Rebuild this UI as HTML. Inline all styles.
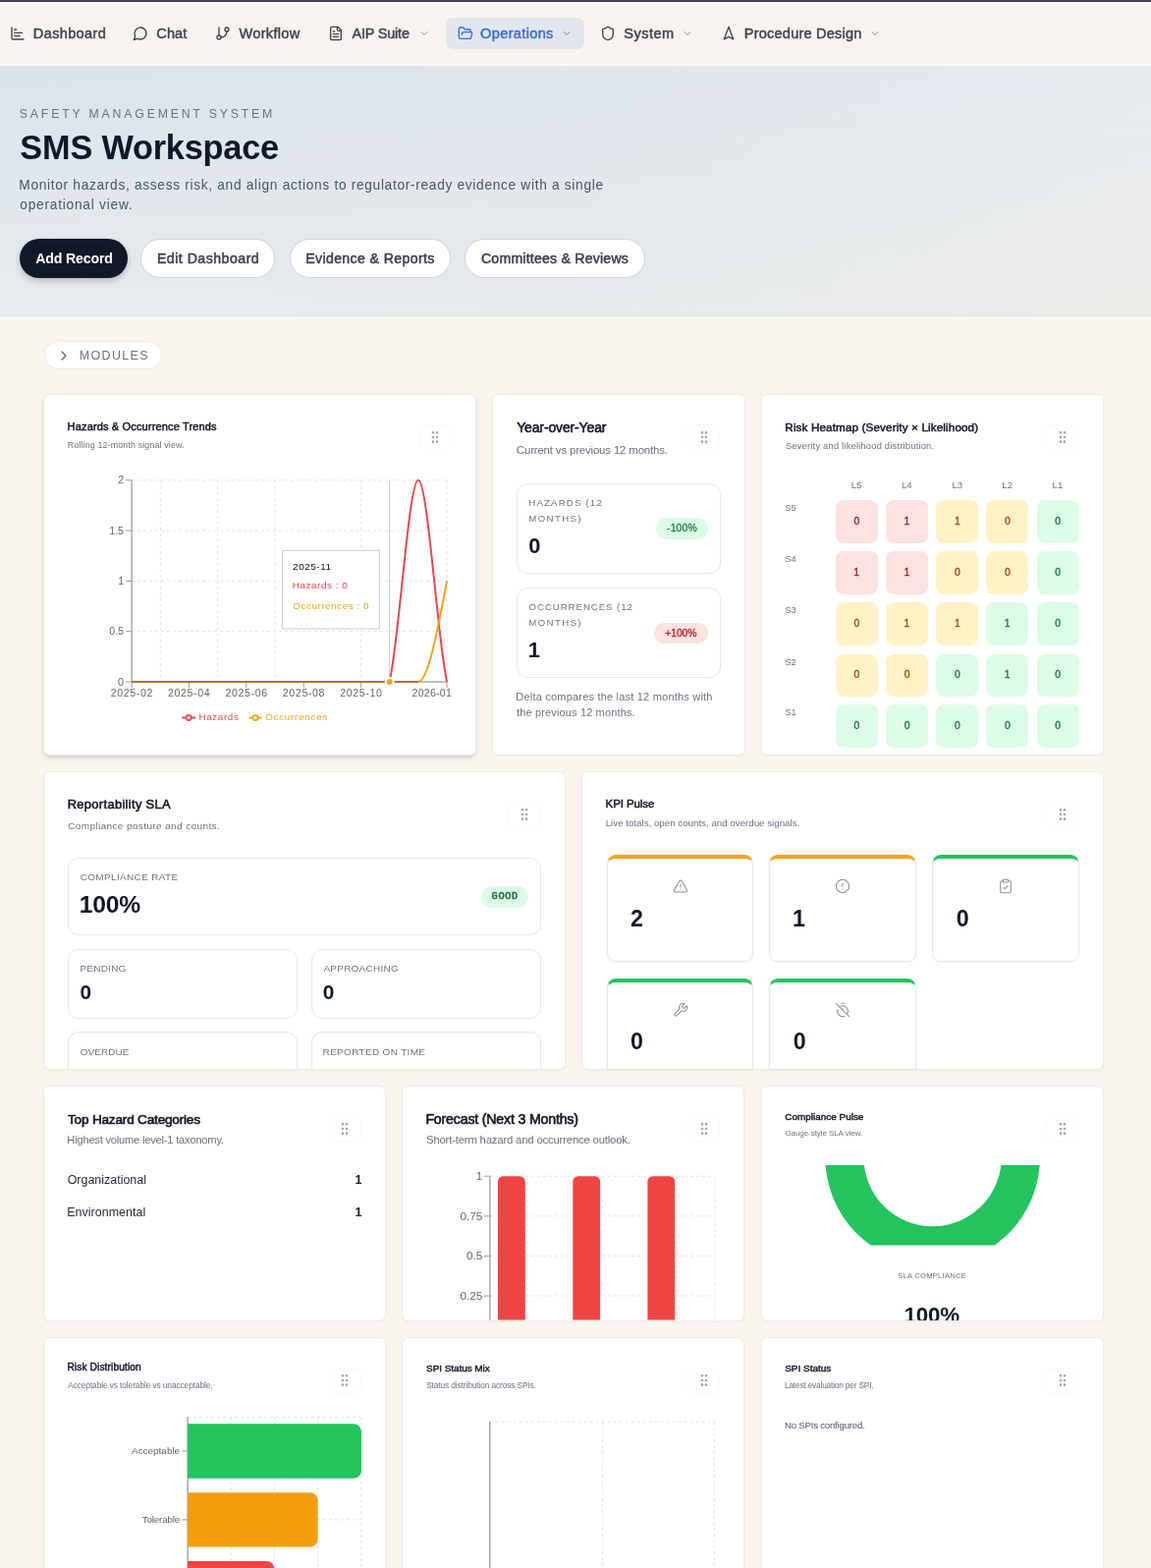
<!DOCTYPE html>
<html><head><meta charset="utf-8"><title>SMS Workspace</title>
<style>
*{box-sizing:border-box;margin:0;padding:0}
html,body{width:1172px;height:1596px;overflow:hidden}
body{background:#f8f5ee;font-family:"Liberation Sans",Arial,sans-serif;position:relative}
.t{position:absolute;white-space:nowrap}
svg{display:block}
</style></head><body>
<div style="position:absolute;left:0px;top:0px;width:1172px;height:1px;background:#4b4554"></div>
<div style="position:absolute;left:0px;top:1px;width:1172px;height:1px;background:#3b3541"></div>
<div style="position:absolute;left:0px;top:2px;width:1172px;height:1px;background:#fdfcfa"></div>
<div style="position:absolute;left:0px;top:3px;width:1172px;height:63px;background:#f7f4ef"></div>
<div style="position:absolute;left:0px;top:65px;width:1172px;height:1.5px;background:#fbfaf8"></div>
<div style="position:absolute;left:0px;top:66.5px;width:1172px;height:255.5px;background:linear-gradient(90deg,#dbe3ec 0%,#dfe6ee 50%,#e6eaf0 100%)"></div>
<div style="position:absolute;left:0px;top:66.5px;width:1172px;height:255.5px;background:linear-gradient(90deg,#e6ecee 0%,#e6eaeb 50%,#ebebe7 100%);-webkit-mask-image:linear-gradient(180deg,transparent 0%,#000 100%);mask-image:linear-gradient(180deg,transparent 0%,#000 100%)"></div>
<div style="position:absolute;left:0px;top:321px;width:1172px;height:1px;background:#e4e5e3"></div>
<div style="position:absolute;left:454px;top:18px;width:141px;height:32px;background:#e2e6ef;border-radius:7px"></div>
<svg style="position:absolute;left:10px;top:26px;" width="16" height="16" viewBox="0 0 24 24" fill="none" stroke="#3f4150" stroke-width="2" stroke-linecap="round" stroke-linejoin="round"><path d="M3 3v16a2 2 0 0 0 2 2h16"/><path d="M7 16h8"/><path d="M7 11h12"/><path d="M7 6h3"/></svg>
<svg style="position:absolute;left:135px;top:26px;" width="16" height="16" viewBox="0 0 24 24" fill="none" stroke="#3f4150" stroke-width="2" stroke-linecap="round" stroke-linejoin="round"><path d="M7.9 20A9 9 0 1 0 4 16.1L2 22Z"/></svg>
<svg style="position:absolute;left:219px;top:26px;" width="16" height="16" viewBox="0 0 24 24" fill="none" stroke="#3f4150" stroke-width="2" stroke-linecap="round" stroke-linejoin="round"><line x1="6" x2="6" y1="3" y2="15"/><circle cx="18" cy="6" r="3"/><circle cx="6" cy="18" r="3"/><path d="M18 9a9 9 0 0 1-9 9"/></svg>
<svg style="position:absolute;left:334px;top:26px;" width="16" height="16" viewBox="0 0 24 24" fill="none" stroke="#3f4150" stroke-width="2" stroke-linecap="round" stroke-linejoin="round"><path d="M15 2H6a2 2 0 0 0-2 2v16a2 2 0 0 0 2 2h12a2 2 0 0 0 2-2V7Z"/><path d="M14 2v4a2 2 0 0 0 2 2h4"/><path d="M10 9H8"/><path d="M16 13H8"/><path d="M16 17H8"/></svg>
<svg style="position:absolute;left:426.4px;top:27.9px;" width="12" height="12" viewBox="0 0 24 24" fill="none" stroke="#80848f" stroke-width="2" stroke-linecap="round" stroke-linejoin="round"><path d="m6 9 6 6 6-6"/></svg>
<svg style="position:absolute;left:466px;top:26px;" width="16" height="16" viewBox="0 0 24 24" fill="none" stroke="#3a6bd1" stroke-width="2" stroke-linecap="round" stroke-linejoin="round"><path d="m6 14 1.5-2.9A2 2 0 0 1 9.24 10H20a2 2 0 0 1 1.94 2.5l-1.54 6a2 2 0 0 1-1.95 1.5H4a2 2 0 0 1-2-2V5a2 2 0 0 1 2-2h3.9a2 2 0 0 1 1.69.9l.81 1.2a2 2 0 0 0 1.67.9H18a2 2 0 0 1 2 2v2"/></svg>
<svg style="position:absolute;left:571px;top:27.9px;" width="12" height="12" viewBox="0 0 24 24" fill="none" stroke="#6f86bd" stroke-width="2" stroke-linecap="round" stroke-linejoin="round"><path d="m6 9 6 6 6-6"/></svg>
<svg style="position:absolute;left:611px;top:26px;" width="16" height="16" viewBox="0 0 24 24" fill="none" stroke="#3f4150" stroke-width="2" stroke-linecap="round" stroke-linejoin="round"><path d="M20 13c0 5-3.5 7.5-7.66 8.95a1 1 0 0 1-.67-.01C7.5 20.5 4 18 4 13V6a1 1 0 0 1 1-1c2 0 4.5-1.2 6.24-2.72a1.17 1.17 0 0 1 1.52 0C14.51 3.81 17 5 19 5a1 1 0 0 1 1 1z"/></svg>
<svg style="position:absolute;left:693.7px;top:27.9px;" width="12" height="12" viewBox="0 0 24 24" fill="none" stroke="#80848f" stroke-width="2" stroke-linecap="round" stroke-linejoin="round"><path d="m6 9 6 6 6-6"/></svg>
<svg style="position:absolute;left:734px;top:26px;" width="16" height="16" viewBox="0 0 24 24" fill="none" stroke="#3f4150" stroke-width="2" stroke-linecap="round" stroke-linejoin="round"><polygon points="12 2 19 21 12 17 5 21 12 2"/></svg>
<svg style="position:absolute;left:885.1px;top:27.9px;" width="12" height="12" viewBox="0 0 24 24" fill="none" stroke="#80848f" stroke-width="2" stroke-linecap="round" stroke-linejoin="round"><path d="m6 9 6 6 6-6"/></svg>
<div style="position:absolute;left:20px;top:243px;width:110px;height:40px;background:#111827;border-radius:20px;box-shadow:0 3px 6px rgba(17,24,39,.22)"></div>
<div style="position:absolute;left:143px;top:243px;width:137px;height:40px;background:#fff;border:1px solid #cdd4de;border-radius:20px"></div>
<div style="position:absolute;left:294.6px;top:243px;width:164px;height:40px;background:#fff;border:1px solid #cdd4de;border-radius:20px"></div>
<div style="position:absolute;left:473px;top:243px;width:184px;height:40px;background:#fff;border:1px solid #cdd4de;border-radius:20px"></div>
<div style="position:absolute;left:44.6px;top:347.4px;width:120.4px;height:29px;background:#fff;border:1px solid #ebe9e4;border-radius:15px"></div>
<svg style="position:absolute;left:57.1px;top:353.75px;" width="16" height="16" viewBox="0 0 24 24" fill="none" stroke="#596070" stroke-width="2" stroke-linecap="round" stroke-linejoin="round"><path d="m9 18 6-6-6-6"/></svg>
<div style="position:absolute;left:44px;top:401px;width:441px;height:368px;background:#fff;border:1px solid #ebeae7;border-radius:6.5px;box-shadow:0 3px 5px rgba(0,0,0,.10),0 1px 2px rgba(0,0,0,.05)"></div>
<div style="position:absolute;left:426.6px;top:432.4px;width:33px;height:25px;border:1px solid #fafafa;border-radius:5px"></div>
<svg style="position:absolute;left:435.1px;top:436.9px;" width="16" height="16" viewBox="0 0 24 24" fill="none" stroke="#a5a6aa" stroke-width="2" stroke-linecap="round" stroke-linejoin="round"><circle cx="9" cy="12" r="1"/><circle cx="9" cy="5" r="1"/><circle cx="9" cy="19" r="1"/><circle cx="15" cy="12" r="1"/><circle cx="15" cy="5" r="1"/><circle cx="15" cy="19" r="1"/></svg>
<div style="position:absolute;left:501px;top:401px;width:258px;height:368px;background:#fff;border:1px solid #ebeae7;border-radius:6.5px;box-shadow:0 1px 2px rgba(0,0,0,.035)"></div>
<div style="position:absolute;left:700.2px;top:432.4px;width:33px;height:25px;border:1px solid #fafafa;border-radius:5px"></div>
<svg style="position:absolute;left:708.7px;top:436.9px;" width="16" height="16" viewBox="0 0 24 24" fill="none" stroke="#a5a6aa" stroke-width="2" stroke-linecap="round" stroke-linejoin="round"><circle cx="9" cy="12" r="1"/><circle cx="9" cy="5" r="1"/><circle cx="9" cy="19" r="1"/><circle cx="15" cy="12" r="1"/><circle cx="15" cy="5" r="1"/><circle cx="15" cy="19" r="1"/></svg>
<div style="position:absolute;left:775px;top:401px;width:349px;height:368px;background:#fff;border:1px solid #ebeae7;border-radius:6.5px;box-shadow:0 1px 2px rgba(0,0,0,.035)"></div>
<div style="position:absolute;left:1065.3999999999999px;top:432.4px;width:33px;height:25px;border:1px solid #fafafa;border-radius:5px"></div>
<svg style="position:absolute;left:1073.8999999999999px;top:436.9px;" width="16" height="16" viewBox="0 0 24 24" fill="none" stroke="#a5a6aa" stroke-width="2" stroke-linecap="round" stroke-linejoin="round"><circle cx="9" cy="12" r="1"/><circle cx="9" cy="5" r="1"/><circle cx="9" cy="19" r="1"/><circle cx="15" cy="12" r="1"/><circle cx="15" cy="5" r="1"/><circle cx="15" cy="19" r="1"/></svg>
<div style="position:absolute;left:44px;top:785px;width:532px;height:304px;background:#fff;border:1px solid #ebeae7;border-radius:6.5px;box-shadow:0 1px 2px rgba(0,0,0,.035)"></div>
<div style="position:absolute;left:517.0000000000001px;top:816.5px;width:33px;height:25px;border:1px solid #fafafa;border-radius:5px"></div>
<svg style="position:absolute;left:525.5000000000001px;top:821.0px;" width="16" height="16" viewBox="0 0 24 24" fill="none" stroke="#a5a6aa" stroke-width="2" stroke-linecap="round" stroke-linejoin="round"><circle cx="9" cy="12" r="1"/><circle cx="9" cy="5" r="1"/><circle cx="9" cy="19" r="1"/><circle cx="15" cy="12" r="1"/><circle cx="15" cy="5" r="1"/><circle cx="15" cy="19" r="1"/></svg>
<div style="position:absolute;left:592px;top:785px;width:532px;height:304px;background:#fff;border:1px solid #ebeae7;border-radius:6.5px;box-shadow:0 1px 2px rgba(0,0,0,.035)"></div>
<div style="position:absolute;left:1065.4px;top:816.5px;width:33px;height:25px;border:1px solid #fafafa;border-radius:5px"></div>
<svg style="position:absolute;left:1073.9px;top:821.0px;" width="16" height="16" viewBox="0 0 24 24" fill="none" stroke="#a5a6aa" stroke-width="2" stroke-linecap="round" stroke-linejoin="round"><circle cx="9" cy="12" r="1"/><circle cx="9" cy="5" r="1"/><circle cx="9" cy="19" r="1"/><circle cx="15" cy="12" r="1"/><circle cx="15" cy="5" r="1"/><circle cx="15" cy="19" r="1"/></svg>
<div style="position:absolute;left:44px;top:1105px;width:349px;height:240px;background:#fff;border:1px solid #ebeae7;border-radius:6.5px;box-shadow:0 1px 2px rgba(0,0,0,.035)"></div>
<div style="position:absolute;left:334.5px;top:1136.7px;width:33px;height:25px;border:1px solid #fafafa;border-radius:5px"></div>
<svg style="position:absolute;left:343.0px;top:1141.2px;" width="16" height="16" viewBox="0 0 24 24" fill="none" stroke="#a5a6aa" stroke-width="2" stroke-linecap="round" stroke-linejoin="round"><circle cx="9" cy="12" r="1"/><circle cx="9" cy="5" r="1"/><circle cx="9" cy="19" r="1"/><circle cx="15" cy="12" r="1"/><circle cx="15" cy="5" r="1"/><circle cx="15" cy="19" r="1"/></svg>
<div style="position:absolute;left:409px;top:1105px;width:349px;height:240px;background:#fff;border:1px solid #ebeae7;border-radius:6.5px;box-shadow:0 1px 2px rgba(0,0,0,.035)"></div>
<div style="position:absolute;left:700.4000000000001px;top:1136.7px;width:33px;height:25px;border:1px solid #fafafa;border-radius:5px"></div>
<svg style="position:absolute;left:708.9000000000001px;top:1141.2px;" width="16" height="16" viewBox="0 0 24 24" fill="none" stroke="#a5a6aa" stroke-width="2" stroke-linecap="round" stroke-linejoin="round"><circle cx="9" cy="12" r="1"/><circle cx="9" cy="5" r="1"/><circle cx="9" cy="19" r="1"/><circle cx="15" cy="12" r="1"/><circle cx="15" cy="5" r="1"/><circle cx="15" cy="19" r="1"/></svg>
<div style="position:absolute;left:775px;top:1105px;width:349px;height:240px;background:#fff;border:1px solid #ebeae7;border-radius:6.5px;box-shadow:0 1px 2px rgba(0,0,0,.035)"></div>
<div style="position:absolute;left:1065.3999999999999px;top:1136.7px;width:33px;height:25px;border:1px solid #fafafa;border-radius:5px"></div>
<svg style="position:absolute;left:1073.8999999999999px;top:1141.2px;" width="16" height="16" viewBox="0 0 24 24" fill="none" stroke="#a5a6aa" stroke-width="2" stroke-linecap="round" stroke-linejoin="round"><circle cx="9" cy="12" r="1"/><circle cx="9" cy="5" r="1"/><circle cx="9" cy="19" r="1"/><circle cx="15" cy="12" r="1"/><circle cx="15" cy="5" r="1"/><circle cx="15" cy="19" r="1"/></svg>
<div style="position:absolute;left:44px;top:1361px;width:349px;height:300px;background:#fff;border:1px solid #ebeae7;border-radius:6.5px;box-shadow:0 1px 2px rgba(0,0,0,.035)"></div>
<div style="position:absolute;left:334.5px;top:1392.5px;width:33px;height:25px;border:1px solid #fafafa;border-radius:5px"></div>
<svg style="position:absolute;left:343.0px;top:1397.0px;" width="16" height="16" viewBox="0 0 24 24" fill="none" stroke="#a5a6aa" stroke-width="2" stroke-linecap="round" stroke-linejoin="round"><circle cx="9" cy="12" r="1"/><circle cx="9" cy="5" r="1"/><circle cx="9" cy="19" r="1"/><circle cx="15" cy="12" r="1"/><circle cx="15" cy="5" r="1"/><circle cx="15" cy="19" r="1"/></svg>
<div style="position:absolute;left:409px;top:1361px;width:349px;height:300px;background:#fff;border:1px solid #ebeae7;border-radius:6.5px;box-shadow:0 1px 2px rgba(0,0,0,.035)"></div>
<div style="position:absolute;left:700.4000000000001px;top:1392.5px;width:33px;height:25px;border:1px solid #fafafa;border-radius:5px"></div>
<svg style="position:absolute;left:708.9000000000001px;top:1397.0px;" width="16" height="16" viewBox="0 0 24 24" fill="none" stroke="#a5a6aa" stroke-width="2" stroke-linecap="round" stroke-linejoin="round"><circle cx="9" cy="12" r="1"/><circle cx="9" cy="5" r="1"/><circle cx="9" cy="19" r="1"/><circle cx="15" cy="12" r="1"/><circle cx="15" cy="5" r="1"/><circle cx="15" cy="19" r="1"/></svg>
<div style="position:absolute;left:775px;top:1361px;width:349px;height:300px;background:#fff;border:1px solid #ebeae7;border-radius:6.5px;box-shadow:0 1px 2px rgba(0,0,0,.035)"></div>
<div style="position:absolute;left:1065.3999999999999px;top:1392.5px;width:33px;height:25px;border:1px solid #fafafa;border-radius:5px"></div>
<svg style="position:absolute;left:1073.8999999999999px;top:1397.0px;" width="16" height="16" viewBox="0 0 24 24" fill="none" stroke="#a5a6aa" stroke-width="2" stroke-linecap="round" stroke-linejoin="round"><circle cx="9" cy="12" r="1"/><circle cx="9" cy="5" r="1"/><circle cx="9" cy="19" r="1"/><circle cx="15" cy="12" r="1"/><circle cx="15" cy="5" r="1"/><circle cx="15" cy="19" r="1"/></svg>
<div style="position:absolute;left:526.4px;top:491.7px;width:207.2px;height:92.8px;border:1px solid #e6e7ea;border-radius:11px"></div>
<div style="position:absolute;left:526.4px;top:597.6px;width:207.2px;height:92.9px;border:1px solid #e6e7ea;border-radius:11px"></div>
<div style="position:absolute;left:668px;top:527.4px;width:52.7px;height:22.1px;background:#dcfce7;border-radius:11px"></div>
<div style="position:absolute;left:666.4px;top:633.8px;width:54.3px;height:21px;background:#fee2e2;border-radius:11px"></div>
<div style="position:absolute;left:850.8px;top:509px;width:43px;height:43.6px;background:#fde2e2;border-radius:8px"></div>
<div style="position:absolute;left:902.1px;top:509px;width:43px;height:43.6px;background:#fde2e2;border-radius:8px"></div>
<div style="position:absolute;left:953.4px;top:509px;width:43px;height:43.6px;background:#fef3c7;border-radius:8px"></div>
<div style="position:absolute;left:1004.3px;top:509px;width:43px;height:43.6px;background:#fef3c7;border-radius:8px"></div>
<div style="position:absolute;left:1055.6px;top:509px;width:43px;height:43.6px;background:#dcfce7;border-radius:8px"></div>
<div style="position:absolute;left:850.8px;top:561.2px;width:43px;height:43.6px;background:#fde2e2;border-radius:8px"></div>
<div style="position:absolute;left:902.1px;top:561.2px;width:43px;height:43.6px;background:#fde2e2;border-radius:8px"></div>
<div style="position:absolute;left:953.4px;top:561.2px;width:43px;height:43.6px;background:#fef3c7;border-radius:8px"></div>
<div style="position:absolute;left:1004.3px;top:561.2px;width:43px;height:43.6px;background:#fef3c7;border-radius:8px"></div>
<div style="position:absolute;left:1055.6px;top:561.2px;width:43px;height:43.6px;background:#dcfce7;border-radius:8px"></div>
<div style="position:absolute;left:850.8px;top:613.4px;width:43px;height:43.6px;background:#fef3c7;border-radius:8px"></div>
<div style="position:absolute;left:902.1px;top:613.4px;width:43px;height:43.6px;background:#fef3c7;border-radius:8px"></div>
<div style="position:absolute;left:953.4px;top:613.4px;width:43px;height:43.6px;background:#fef3c7;border-radius:8px"></div>
<div style="position:absolute;left:1004.3px;top:613.4px;width:43px;height:43.6px;background:#dcfce7;border-radius:8px"></div>
<div style="position:absolute;left:1055.6px;top:613.4px;width:43px;height:43.6px;background:#dcfce7;border-radius:8px"></div>
<div style="position:absolute;left:850.8px;top:665.6px;width:43px;height:43.6px;background:#fef3c7;border-radius:8px"></div>
<div style="position:absolute;left:902.1px;top:665.6px;width:43px;height:43.6px;background:#fef3c7;border-radius:8px"></div>
<div style="position:absolute;left:953.4px;top:665.6px;width:43px;height:43.6px;background:#dcfce7;border-radius:8px"></div>
<div style="position:absolute;left:1004.3px;top:665.6px;width:43px;height:43.6px;background:#dcfce7;border-radius:8px"></div>
<div style="position:absolute;left:1055.6px;top:665.6px;width:43px;height:43.6px;background:#dcfce7;border-radius:8px"></div>
<div style="position:absolute;left:850.8px;top:717.3px;width:43px;height:43.6px;background:#dcfce7;border-radius:8px"></div>
<div style="position:absolute;left:902.1px;top:717.3px;width:43px;height:43.6px;background:#dcfce7;border-radius:8px"></div>
<div style="position:absolute;left:953.4px;top:717.3px;width:43px;height:43.6px;background:#dcfce7;border-radius:8px"></div>
<div style="position:absolute;left:1004.3px;top:717.3px;width:43px;height:43.6px;background:#dcfce7;border-radius:8px"></div>
<div style="position:absolute;left:1055.6px;top:717.3px;width:43px;height:43.6px;background:#dcfce7;border-radius:8px"></div>
<div style="position:absolute;left:69.3px;top:872.8px;width:481.3px;height:79.4px;border:1px solid #e8e9ec;border-radius:11px"></div>
<div style="position:absolute;left:489.9px;top:902.2px;width:47.7px;height:21.5px;background:#dcfce7;border-radius:11px"></div>
<div style="position:absolute;left:69.3px;top:965.9px;width:234.2px;height:71.1px;border:1px solid #e8e9ec;border-radius:11px"></div>
<div style="position:absolute;left:316.5px;top:965.9px;width:234.2px;height:71.1px;border:1px solid #e8e9ec;border-radius:11px"></div>
<div style="position:absolute;left:69.3px;top:1050.2px;width:234.2px;height:37.8px;border:1px solid #e8e9ec;border-bottom:none;border-radius:11px 11px 0 0"></div>
<div style="position:absolute;left:316.5px;top:1050.2px;width:234.2px;height:37.8px;border:1px solid #e8e9ec;border-bottom:none;border-radius:11px 11px 0 0"></div>
<div style="position:absolute;left:617.5px;top:869.9px;width:149.9px;height:109px;background:#fff;border:1px solid #e6e7ea;border-top:4px solid #f5a31a;border-radius:9px;box-shadow:0 1px 2px rgba(0,0,0,.05)"></div>
<svg style="position:absolute;left:684.5px;top:893.9px;" width="16" height="16" viewBox="0 0 24 24" fill="none" stroke="#8a909c" stroke-width="1.6" stroke-linecap="round" stroke-linejoin="round"><path d="m21.73 18-8-14a2 2 0 0 0-3.48 0l-8 14A2 2 0 0 0 4 21h16a2 2 0 0 0 1.73-3"/><path d="M12 9v4"/><path d="M12 17h.01"/></svg>
<div style="position:absolute;left:783.4px;top:869.9px;width:149.9px;height:109px;background:#fff;border:1px solid #e6e7ea;border-top:4px solid #f5a31a;border-radius:9px;box-shadow:0 1px 2px rgba(0,0,0,.05)"></div>
<svg style="position:absolute;left:850.4px;top:893.9px;" width="16" height="16" viewBox="0 0 24 24" fill="none" stroke="#8a909c" stroke-width="1.6" stroke-linecap="round" stroke-linejoin="round"><circle cx="12" cy="12" r="10"/><line x1="12" x2="12" y1="8" y2="12"/><line x1="12" x2="12.01" y1="16" y2="16"/></svg>
<div style="position:absolute;left:949.3px;top:869.9px;width:149.9px;height:109px;background:#fff;border:1px solid #e6e7ea;border-top:4px solid #22c55e;border-radius:9px;box-shadow:0 1px 2px rgba(0,0,0,.05)"></div>
<svg style="position:absolute;left:1016.3px;top:893.9px;" width="16" height="16" viewBox="0 0 24 24" fill="none" stroke="#8a909c" stroke-width="1.6" stroke-linecap="round" stroke-linejoin="round"><rect width="8" height="4" x="8" y="2" rx="1" ry="1"/><path d="M16 4h2a2 2 0 0 1 2 2v14a2 2 0 0 1-2 2H6a2 2 0 0 1-2-2V6a2 2 0 0 1 2-2h2"/><path d="m9 14 2 2 4-4"/></svg>
<div style="position:absolute;left:617.5px;top:995.5px;width:149.9px;height:92.5px;background:#fff;border:1px solid #e6e7ea;border-top:4px solid #22c55e;border-radius:9px 9px 0 0;border-bottom:none;box-shadow:0 1px 2px rgba(0,0,0,.05)"></div>
<svg style="position:absolute;left:684.5px;top:1019.5px;" width="16" height="16" viewBox="0 0 24 24" fill="none" stroke="#8a909c" stroke-width="1.6" stroke-linecap="round" stroke-linejoin="round"><path d="M14.7 6.3a1 1 0 0 0 0 1.4l1.6 1.6a1 1 0 0 0 1.4 0l3.77-3.77a6 6 0 0 1-7.94 7.94l-6.91 6.91a2.12 2.12 0 0 1-3-3l6.91-6.91a6 6 0 0 1 7.94-7.94l-3.76 3.76z"/></svg>
<div style="position:absolute;left:783.4px;top:995.5px;width:149.9px;height:92.5px;background:#fff;border:1px solid #e6e7ea;border-top:4px solid #22c55e;border-radius:9px 9px 0 0;border-bottom:none;box-shadow:0 1px 2px rgba(0,0,0,.05)"></div>
<svg style="position:absolute;left:850.4px;top:1019.5px;" width="16" height="16" viewBox="0 0 24 24" fill="none" stroke="#8a909c" stroke-width="1.6" stroke-linecap="round" stroke-linejoin="round"><path d="M10 2h4"/><path d="M4.6 11a8 8 0 0 0 1.7 8.7 8 8 0 0 0 8.7 1.7"/><path d="M7.4 7.4a8 8 0 0 1 10.3 1 8 8 0 0 1 .9 10.2"/><path d="m2 2 20 20"/><path d="M12 12v-2"/></svg>
<svg style="position:absolute;left:0;top:0" width="1172" height="1596" viewBox="0 0 1172 1596">
<line x1="134.1" x2="455.1" y1="642.7" y2="642.7" stroke="#e3e3e3" stroke-dasharray="3 3"/>
<line x1="134.1" x2="455.1" y1="591.4" y2="591.4" stroke="#e3e3e3" stroke-dasharray="3 3"/>
<line x1="134.1" x2="455.1" y1="540.1" y2="540.1" stroke="#e3e3e3" stroke-dasharray="3 3"/>
<line x1="134.1" x2="455.1" y1="488.8" y2="488.8" stroke="#e3e3e3" stroke-dasharray="3 3"/>
<line x1="163.3" x2="163.3" y1="488.8" y2="694.0" stroke="#e3e3e3" stroke-dasharray="3 3"/>
<line x1="221.6" x2="221.6" y1="488.8" y2="694.0" stroke="#e3e3e3" stroke-dasharray="3 3"/>
<line x1="280.0" x2="280.0" y1="488.8" y2="694.0" stroke="#e3e3e3" stroke-dasharray="3 3"/>
<line x1="367.6" x2="367.6" y1="488.8" y2="694.0" stroke="#e3e3e3" stroke-dasharray="3 3"/>
<line x1="455.1" x2="455.1" y1="488.8" y2="694.0" stroke="#e3e3e3" stroke-dasharray="3 3"/>
<line x1="396.7" x2="396.7" y1="488.8" y2="694.0" stroke="#cccccc"/>
<line x1="134.1" x2="134.1" y1="488.8" y2="694.0" stroke="#9a9a9a" stroke-width="1.3"/>
<line x1="134.1" x2="455.1" y1="694.0" y2="694.0" stroke="#a8a8a8" stroke-width="1.3"/>
<line x1="128.1" x2="134.1" y1="694.0" y2="694.0" stroke="#9a9a9a"/>
<line x1="128.1" x2="134.1" y1="642.7" y2="642.7" stroke="#9a9a9a"/>
<line x1="128.1" x2="134.1" y1="591.4" y2="591.4" stroke="#9a9a9a"/>
<line x1="128.1" x2="134.1" y1="540.1" y2="540.1" stroke="#9a9a9a"/>
<line x1="128.1" x2="134.1" y1="488.8" y2="488.8" stroke="#9a9a9a"/>
<line x1="134.1" x2="134.1" y1="694.0" y2="700.0" stroke="#9a9a9a"/>
<line x1="192.5" x2="192.5" y1="694.0" y2="700.0" stroke="#9a9a9a"/>
<line x1="250.8" x2="250.8" y1="694.0" y2="700.0" stroke="#9a9a9a"/>
<line x1="309.2" x2="309.2" y1="694.0" y2="700.0" stroke="#9a9a9a"/>
<line x1="367.6" x2="367.6" y1="694.0" y2="700.0" stroke="#9a9a9a"/>
<line x1="455.1" x2="455.1" y1="694.0" y2="700.0" stroke="#9a9a9a"/>
<line x1="134.1" x2="425.9" y1="694.0" y2="694.0" stroke="#a0773f" stroke-width="2"/>
<path d="M396.7,694.0 C406.5,651.2 416.2,488.8 425.9,488.8 C435.6,488.8 445.4,651.2 455.1,694.0" fill="none" stroke="#e5484d" stroke-width="2"/>
<path d="M425.9,694.0 C435.6,694.0 445.4,642.7 455.1,591.4" fill="none" stroke="#f5a31a" stroke-width="2"/>
<circle cx="396.7" cy="694.0" r="4" fill="#f5a31a" stroke="#fff" stroke-width="2"/>
<rect x="287.6" y="560.4" width="98.7" height="79.6" fill="#fff" stroke="#cccccc"/>
<line x1="185.3" x2="199" y1="730.5" y2="730.5" stroke="#e5484d" stroke-width="2"/><circle cx="192.1" cy="730.5" r="2.6" fill="#fff" stroke="#e5484d" stroke-width="1.6"/>
<line x1="253.6" x2="266.4" y1="730.5" y2="730.5" stroke="#f5a31a" stroke-width="2"/><circle cx="260" cy="730.5" r="2.6" fill="#fff" stroke="#f5a31a" stroke-width="1.6"/>
<line x1="498.9" x2="728" y1="1197.2" y2="1197.2" stroke="#e3e3e3" stroke-dasharray="3 3"/>
<line x1="498.9" x2="728" y1="1237.8" y2="1237.8" stroke="#e3e3e3" stroke-dasharray="3 3"/>
<line x1="498.9" x2="728" y1="1278.4" y2="1278.4" stroke="#e3e3e3" stroke-dasharray="3 3"/>
<line x1="498.9" x2="728" y1="1319.0" y2="1319.0" stroke="#e3e3e3" stroke-dasharray="3 3"/>
<line x1="537.1" x2="537.1" y1="1197.2" y2="1343" stroke="#e3e3e3" stroke-dasharray="3 3"/>
<line x1="613.4" x2="613.4" y1="1197.2" y2="1343" stroke="#e3e3e3" stroke-dasharray="3 3"/>
<line x1="689.8" x2="689.8" y1="1197.2" y2="1343" stroke="#e3e3e3" stroke-dasharray="3 3"/>
<line x1="728" x2="728" y1="1197.2" y2="1343" stroke="#e3e3e3" stroke-dasharray="3 3"/>
<line x1="498.9" x2="498.9" y1="1197.2" y2="1343.5" stroke="#9a9a9a" stroke-width="1.3"/>
<line x1="492.9" x2="498.9" y1="1197.2" y2="1197.2" stroke="#9a9a9a"/>
<line x1="492.9" x2="498.9" y1="1237.8" y2="1237.8" stroke="#9a9a9a"/>
<line x1="492.9" x2="498.9" y1="1278.4" y2="1278.4" stroke="#9a9a9a"/>
<line x1="492.9" x2="498.9" y1="1319.0" y2="1319.0" stroke="#9a9a9a"/>
<path d="M507,1343.5 V1202.5 a5.3,5.3 0 0 1 5.3,-5.3 H529.5 a5.3,5.3 0 0 1 5.3,5.3 V1343.5 Z" fill="#ef4444"/>
<path d="M583.3,1343.5 V1202.5 a5.3,5.3 0 0 1 5.3,-5.3 H605.8 a5.3,5.3 0 0 1 5.3,5.3 V1343.5 Z" fill="#ef4444"/>
<path d="M659.4,1343.5 V1202.5 a5.3,5.3 0 0 1 5.3,-5.3 H681.9 a5.3,5.3 0 0 1 5.3,5.3 V1343.5 Z" fill="#ef4444"/>
<clipPath id="gclip"><rect x="800" y="1186" width="300" height="81.4"/></clipPath>
<path clip-path="url(#gclip)" fill-rule="evenodd" fill="#22c55e" d="M840.3000000000001,1178.2 a109.3,109.3 0 1 0 218.6,0 a109.3,109.3 0 1 0 -218.6,0 Z M879.5,1178.2 a70.1,70.1 0 1 0 140.2,0 a70.1,70.1 0 1 0 -140.2,0 Z"/>
<line x1="235.3" x2="235.3" y1="1442.2" y2="1596" stroke="#e3e3e3" stroke-dasharray="3 3"/>
<line x1="279.5" x2="279.5" y1="1442.2" y2="1596" stroke="#e3e3e3" stroke-dasharray="3 3"/>
<line x1="323.6" x2="323.6" y1="1442.2" y2="1596" stroke="#e3e3e3" stroke-dasharray="3 3"/>
<line x1="367.8" x2="367.8" y1="1442.2" y2="1596" stroke="#e3e3e3" stroke-dasharray="3 3"/>
<line x1="191.1" x2="367.8" y1="1442.2" y2="1442.2" stroke="#e3e3e3" stroke-dasharray="3 3"/>
<line x1="191.1" x2="367.8" y1="1477" y2="1477" stroke="#e3e3e3" stroke-dasharray="3 3"/>
<line x1="191.1" x2="367.8" y1="1546.9" y2="1546.9" stroke="#e3e3e3" stroke-dasharray="3 3"/>
<line x1="191.1" x2="191.1" y1="1442.2" y2="1596" stroke="#9a9a9a" stroke-width="1.3"/>
<path d="M191.1,1449.3 H360 a8,8 0 0 1 8,8 V1496.8 a8,8 0 0 1 -8,8 H191.1 Z" fill="#22c55e"/>
<path d="M191.1,1519.2 H315.6 a8,8 0 0 1 8,8 V1566.6000000000001 a8,8 0 0 1 -8,8 H191.1 Z" fill="#f29e0c"/>
<path d="M191.1,1589 H271.3 a8,8 0 0 1 8,8 V1636.4 a8,8 0 0 1 -8,8 H191.1 Z" fill="#ef4444"/>
<line x1="185.1" x2="191.1" y1="1477" y2="1477" stroke="#9a9a9a"/>
<line x1="185.1" x2="191.1" y1="1546.9" y2="1546.9" stroke="#9a9a9a"/>
<line x1="498.7" x2="727.4" y1="1447" y2="1447" stroke="#e3e3e3" stroke-dasharray="3 3"/>
<line x1="613.6" x2="613.6" y1="1447" y2="1596" stroke="#e3e3e3" stroke-dasharray="3 3"/>
<line x1="727.4" x2="727.4" y1="1447" y2="1596" stroke="#e3e3e3" stroke-dasharray="3 3"/>
<line x1="498.7" x2="498.7" y1="1447" y2="1596" stroke="#9a9a9a" stroke-width="1.3"/>
</svg>
<div class="t" style="left:33.86px;top:26.87px;font-size:14.56px;line-height:14.56px;font-weight:400;color:#3f4150;letter-spacing:0.341px;-webkit-text-stroke:0.45px #3f4150;">Dashboard</div>
<div class="t" style="left:159.32px;top:26.87px;font-size:14.56px;line-height:14.56px;font-weight:400;color:#3f4150;letter-spacing:0.059px;-webkit-text-stroke:0.45px #3f4150;">Chat</div>
<div class="t" style="left:243.50px;top:26.87px;font-size:14.56px;line-height:14.56px;font-weight:400;color:#3f4150;letter-spacing:0.318px;-webkit-text-stroke:0.45px #3f4150;">Workflow</div>
<div class="t" style="left:358.60px;top:26.98px;font-size:14.44px;line-height:14.44px;font-weight:400;color:#3f4150;letter-spacing:-0.200px;-webkit-text-stroke:0.45px #3f4150;">AIP Suite</div>
<div class="t" style="left:489.12px;top:26.87px;font-size:14.56px;line-height:14.56px;font-weight:400;color:#3a6bd1;letter-spacing:0.346px;-webkit-text-stroke:0.45px #3a6bd1;">Operations</div>
<div class="t" style="left:635.34px;top:26.87px;font-size:14.56px;line-height:14.56px;font-weight:400;color:#3f4150;letter-spacing:0.473px;-webkit-text-stroke:0.45px #3f4150;">System</div>
<div class="t" style="left:757.76px;top:26.87px;font-size:14.56px;line-height:14.56px;font-weight:400;color:#3f4150;letter-spacing:0.214px;-webkit-text-stroke:0.45px #3f4150;">Procedure Design</div>
<div class="t" style="left:19.85px;top:109.81px;font-size:12.27px;line-height:12.27px;font-weight:400;color:#687080;letter-spacing:2.826px;">SAFETY MANAGEMENT SYSTEM</div>
<div class="t" style="left:20.36px;top:132.86px;font-size:34.31px;line-height:34.31px;font-weight:700;color:#0f172a;letter-spacing:-0.200px;">SMS Workspace</div>
<div class="t" style="left:19.33px;top:182.08px;font-size:13.73px;line-height:13.73px;font-weight:400;color:#4b5563;letter-spacing:0.684px;">Monitor hazards, assess risk, and align actions to regulator-ready evidence with a single</div>
<div class="t" style="left:20.27px;top:201.78px;font-size:13.73px;line-height:13.73px;font-weight:400;color:#4b5563;letter-spacing:0.762px;">operational view.</div>
<div class="t" style="left:36.28px;top:255.83px;font-size:14.14px;line-height:14.14px;font-weight:700;color:#ffffff;letter-spacing:-0.156px;">Add Record</div>
<div class="t" style="left:159.90px;top:255.83px;font-size:14.14px;line-height:14.14px;font-weight:400;color:#374151;letter-spacing:0.495px;-webkit-text-stroke:0.5px #374151;">Edit Dashboard</div>
<div class="t" style="left:311.20px;top:255.83px;font-size:14.14px;line-height:14.14px;font-weight:400;color:#374151;letter-spacing:0.370px;-webkit-text-stroke:0.5px #374151;">Evidence &amp; Reports</div>
<div class="t" style="left:489.94px;top:255.83px;font-size:14.14px;line-height:14.14px;font-weight:400;color:#374151;letter-spacing:0.208px;-webkit-text-stroke:0.5px #374151;">Committees &amp; Reviews</div>
<div class="t" style="left:80.80px;top:356.24px;font-size:12.48px;line-height:12.48px;font-weight:400;color:#6b7080;letter-spacing:1.335px;">MODULES</div>
<div class="t" style="left:68.60px;top:428.67px;font-size:11.02px;line-height:11.02px;font-weight:400;color:#111827;letter-spacing:0.148px;-webkit-text-stroke:0.48px #111827;">Hazards &amp; Occurrence Trends</div>
<div class="t" style="left:68.80px;top:449.13px;font-size:8.94px;line-height:8.94px;font-weight:400;color:#6b7080;letter-spacing:0.114px;">Rolling 12-month signal view.</div>
<div class="t" style="left:526.18px;top:429.20px;font-size:13.94px;line-height:13.94px;font-weight:400;color:#111827;letter-spacing:-0.111px;-webkit-text-stroke:0.60px #111827;">Year-over-Year</div>
<div class="t" style="left:525.85px;top:452.52px;font-size:11.44px;line-height:11.44px;font-weight:400;color:#6b7080;letter-spacing:-0.165px;">Current vs previous 12 months.</div>
<div class="t" style="left:799.35px;top:429.44px;font-size:11.65px;line-height:11.65px;font-weight:400;color:#111827;letter-spacing:0.141px;-webkit-text-stroke:0.50px #111827;">Risk Heatmap (Severity × Likelihood)</div>
<div class="t" style="left:799.90px;top:449.78px;font-size:9.36px;line-height:9.36px;font-weight:400;color:#6b7080;letter-spacing:0.204px;">Severity and likelihood distribution.</div>
<div class="t" style="left:68.69px;top:812.98px;font-size:12.9px;line-height:12.9px;font-weight:400;color:#111827;letter-spacing:0.336px;-webkit-text-stroke:0.56px #111827;">Reportability SLA</div>
<div class="t" style="left:69.20px;top:835.95px;font-size:9.98px;line-height:9.98px;font-weight:400;color:#6b7080;letter-spacing:0.398px;">Compliance posture and counts.</div>
<div class="t" style="left:616.60px;top:813.22px;font-size:11.44px;line-height:11.44px;font-weight:400;color:#111827;letter-spacing:-0.059px;-webkit-text-stroke:0.49px #111827;">KPI Pulse</div>
<div class="t" style="left:616.70px;top:832.62px;font-size:9.78px;line-height:9.78px;font-weight:400;color:#6b7080;letter-spacing:-0.013px;">Live totals, open counts, and overdue signals.</div>
<div class="t" style="left:68.99px;top:1132.99px;font-size:13.6px;line-height:13.6px;font-weight:400;color:#111827;letter-spacing:-0.200px;-webkit-text-stroke:0.62px #111827;">Top Hazard Categories</div>
<div class="t" style="left:68.33px;top:1155.09px;font-size:11.12px;line-height:11.12px;font-weight:400;color:#6b7080;letter-spacing:-0.200px;">Highest volume level-1 taxonomy.</div>
<div class="t" style="left:433.39px;top:1132.47px;font-size:14.21px;line-height:14.21px;font-weight:400;color:#111827;letter-spacing:-0.200px;-webkit-text-stroke:0.62px #111827;">Forecast (Next 3 Months)</div>
<div class="t" style="left:434.00px;top:1154.88px;font-size:11.36px;line-height:11.36px;font-weight:400;color:#6b7080;letter-spacing:-0.200px;">Short-term hazard and occurrence outlook.</div>
<div class="t" style="left:799.30px;top:1131.64px;font-size:9.88px;line-height:9.88px;font-weight:400;color:#111827;letter-spacing:0.031px;-webkit-text-stroke:0.43px #111827;">Compliance Pulse</div>
<div class="t" style="left:799.40px;top:1149.93px;font-size:8.11px;line-height:8.11px;font-weight:400;color:#6b7080;letter-spacing:-0.114px;">Gauge-style SLA view.</div>
<div class="t" style="left:68.40px;top:1387.37px;font-size:10.19px;line-height:10.19px;font-weight:400;color:#111827;letter-spacing:0.113px;-webkit-text-stroke:0.44px #111827;">Risk Distribution</div>
<div class="t" style="left:69.20px;top:1405.96px;font-size:8.32px;line-height:8.32px;font-weight:400;color:#6b7080;letter-spacing:-0.083px;">Acceptable vs tolerable vs unacceptable.</div>
<div class="t" style="left:434.05px;top:1387.85px;font-size:9.98px;line-height:9.98px;font-weight:400;color:#111827;letter-spacing:-0.054px;-webkit-text-stroke:0.43px #111827;">SPI Status Mix</div>
<div class="t" style="left:434.15px;top:1406.26px;font-size:8.32px;line-height:8.32px;font-weight:400;color:#6b7080;letter-spacing:-0.106px;">Status distribution across SPIs.</div>
<div class="t" style="left:799.15px;top:1387.85px;font-size:9.98px;line-height:9.98px;font-weight:400;color:#111827;letter-spacing:0.004px;-webkit-text-stroke:0.43px #111827;">SPI Status</div>
<div class="t" style="left:798.95px;top:1406.26px;font-size:8.32px;line-height:8.32px;font-weight:400;color:#6b7080;letter-spacing:-0.180px;">Latest evaluation per SPI.</div>
<div class="t" style="left:120.10px;top:688.62px;font-size:10.61px;line-height:10.61px;font-weight:400;color:#666666;letter-spacing:0.000px;">0</div>
<div class="t" style="left:111.25px;top:637.32px;font-size:10.61px;line-height:10.61px;font-weight:400;color:#666666;letter-spacing:0.000px;">0.5</div>
<div class="t" style="left:120.20px;top:586.02px;font-size:10.61px;line-height:10.61px;font-weight:400;color:#666666;letter-spacing:0.000px;">1</div>
<div class="t" style="left:111.25px;top:534.72px;font-size:10.61px;line-height:10.61px;font-weight:400;color:#666666;letter-spacing:0.000px;">1.5</div>
<div class="t" style="left:120.20px;top:483.42px;font-size:10.61px;line-height:10.61px;font-weight:400;color:#666666;letter-spacing:0.000px;">2</div>
<div class="t" style="left:112.75px;top:700.22px;font-size:10.61px;line-height:10.61px;font-weight:400;color:#666666;letter-spacing:0.627px;">2025-02</div>
<div class="t" style="left:171.11px;top:700.22px;font-size:10.61px;line-height:10.61px;font-weight:400;color:#666666;letter-spacing:0.594px;">2025-04</div>
<div class="t" style="left:229.48px;top:700.22px;font-size:10.61px;line-height:10.61px;font-weight:400;color:#666666;letter-spacing:0.619px;">2025-06</div>
<div class="t" style="left:287.84px;top:700.22px;font-size:10.61px;line-height:10.61px;font-weight:400;color:#666666;letter-spacing:0.619px;">2025-08</div>
<div class="t" style="left:346.20px;top:700.22px;font-size:10.61px;line-height:10.61px;font-weight:400;color:#666666;letter-spacing:0.611px;">2025-10</div>
<div class="t" style="left:419.50px;top:700.22px;font-size:10.61px;line-height:10.61px;font-weight:400;color:#666666;letter-spacing:0.244px;">2026-01</div>
<div class="t" style="left:298.10px;top:572.35px;font-size:9.98px;line-height:9.98px;font-weight:400;color:#111111;letter-spacing:0.511px;">2025-11</div>
<div class="t" style="left:297.80px;top:590.55px;font-size:9.98px;line-height:9.98px;font-weight:400;color:#e5484d;letter-spacing:0.512px;">Hazards : 0</div>
<div class="t" style="left:298.15px;top:612.45px;font-size:9.98px;line-height:9.98px;font-weight:400;color:#f5a31a;letter-spacing:0.504px;">Occurrences : 0</div>
<div class="t" style="left:202.50px;top:725.42px;font-size:9.78px;line-height:9.78px;font-weight:400;color:#e5484d;letter-spacing:0.654px;">Hazards</div>
<div class="t" style="left:270.15px;top:725.42px;font-size:9.78px;line-height:9.78px;font-weight:400;color:#f5a31a;letter-spacing:0.785px;">Occurrences</div>
<div class="t" style="left:538.25px;top:506.81px;font-size:9.67px;line-height:9.67px;font-weight:400;color:#6b7280;letter-spacing:1.176px;">HAZARDS (12</div>
<div class="t" style="left:538.25px;top:522.81px;font-size:9.67px;line-height:9.67px;font-weight:400;color:#6b7280;letter-spacing:1.367px;">MONTHS)</div>
<div class="t" style="left:538.32px;top:544.51px;font-size:21.84px;line-height:21.84px;font-weight:700;color:#0f172a;letter-spacing:0.000px;">0</div>
<div class="t" style="left:679.05px;top:533.20px;font-size:10.4px;line-height:10.4px;font-weight:400;color:#15803d;letter-spacing:0.134px;-webkit-text-stroke:0.3px #15803d;">-100%</div>
<div class="t" style="left:538.55px;top:612.81px;font-size:9.67px;line-height:9.67px;font-weight:400;color:#6b7280;letter-spacing:0.930px;">OCCURRENCES (12</div>
<div class="t" style="left:538.25px;top:629.21px;font-size:9.67px;line-height:9.67px;font-weight:400;color:#6b7280;letter-spacing:1.367px;">MONTHS)</div>
<div class="t" style="left:537.64px;top:650.51px;font-size:21.84px;line-height:21.84px;font-weight:700;color:#0f172a;letter-spacing:0.000px;">1</div>
<div class="t" style="left:677.30px;top:639.50px;font-size:10.4px;line-height:10.4px;font-weight:400;color:#b91c1c;letter-spacing:-0.106px;-webkit-text-stroke:0.3px #b91c1c;">+100%</div>
<div class="t" style="left:525.30px;top:704.47px;font-size:11.02px;line-height:11.02px;font-weight:400;color:#6b7280;letter-spacing:0.196px;">Delta compares the last 12 months with</div>
<div class="t" style="left:526.05px;top:720.47px;font-size:11.02px;line-height:11.02px;font-weight:400;color:#6b7280;letter-spacing:0.136px;">the previous 12 months.</div>
<div class="t" style="left:866.79px;top:488.80px;font-size:9.57px;line-height:9.57px;font-weight:400;color:#6b7280;letter-spacing:0.000px;">L5</div>
<div class="t" style="left:918.04px;top:488.80px;font-size:9.57px;line-height:9.57px;font-weight:400;color:#6b7280;letter-spacing:0.000px;">L4</div>
<div class="t" style="left:969.39px;top:488.80px;font-size:9.57px;line-height:9.57px;font-weight:400;color:#6b7280;letter-spacing:0.000px;">L3</div>
<div class="t" style="left:1020.34px;top:488.80px;font-size:9.57px;line-height:9.57px;font-weight:400;color:#6b7280;letter-spacing:0.000px;">L2</div>
<div class="t" style="left:1071.61px;top:488.80px;font-size:9.57px;line-height:9.57px;font-weight:400;color:#6b7280;letter-spacing:0.000px;">L1</div>
<div class="t" style="left:799.40px;top:512.95px;font-size:9.15px;line-height:9.15px;font-weight:400;color:#6b7280;letter-spacing:0.000px;">S5</div>
<div class="t" style="left:799.40px;top:565.15px;font-size:9.15px;line-height:9.15px;font-weight:400;color:#6b7280;letter-spacing:0.000px;">S4</div>
<div class="t" style="left:799.40px;top:617.35px;font-size:9.15px;line-height:9.15px;font-weight:400;color:#6b7280;letter-spacing:0.000px;">S3</div>
<div class="t" style="left:799.40px;top:669.55px;font-size:9.15px;line-height:9.15px;font-weight:400;color:#6b7280;letter-spacing:0.000px;">S2</div>
<div class="t" style="left:799.40px;top:721.25px;font-size:9.15px;line-height:9.15px;font-weight:400;color:#6b7280;letter-spacing:0.000px;">S1</div>
<div class="t" style="left:869.40px;top:525.60px;font-size:10.4px;line-height:10.4px;font-weight:400;color:#a31b1b;letter-spacing:0.000px;-webkit-text-stroke:0.35px #a31b1b;">0</div>
<div class="t" style="left:920.58px;top:525.60px;font-size:10.4px;line-height:10.4px;font-weight:400;color:#a31b1b;letter-spacing:0.000px;-webkit-text-stroke:0.35px #a31b1b;">1</div>
<div class="t" style="left:971.88px;top:525.60px;font-size:10.4px;line-height:10.4px;font-weight:400;color:#9a4a0c;letter-spacing:0.000px;-webkit-text-stroke:0.35px #9a4a0c;">1</div>
<div class="t" style="left:1022.90px;top:525.60px;font-size:10.4px;line-height:10.4px;font-weight:400;color:#9a4a0c;letter-spacing:0.000px;-webkit-text-stroke:0.35px #9a4a0c;">0</div>
<div class="t" style="left:1074.20px;top:525.60px;font-size:10.4px;line-height:10.4px;font-weight:400;color:#177a3c;letter-spacing:0.000px;-webkit-text-stroke:0.35px #177a3c;">0</div>
<div class="t" style="left:869.27px;top:577.80px;font-size:10.4px;line-height:10.4px;font-weight:400;color:#a31b1b;letter-spacing:0.000px;-webkit-text-stroke:0.35px #a31b1b;">1</div>
<div class="t" style="left:920.58px;top:577.80px;font-size:10.4px;line-height:10.4px;font-weight:400;color:#a31b1b;letter-spacing:0.000px;-webkit-text-stroke:0.35px #a31b1b;">1</div>
<div class="t" style="left:972.00px;top:577.80px;font-size:10.4px;line-height:10.4px;font-weight:400;color:#9a4a0c;letter-spacing:0.000px;-webkit-text-stroke:0.35px #9a4a0c;">0</div>
<div class="t" style="left:1022.90px;top:577.80px;font-size:10.4px;line-height:10.4px;font-weight:400;color:#9a4a0c;letter-spacing:0.000px;-webkit-text-stroke:0.35px #9a4a0c;">0</div>
<div class="t" style="left:1074.20px;top:577.80px;font-size:10.4px;line-height:10.4px;font-weight:400;color:#177a3c;letter-spacing:0.000px;-webkit-text-stroke:0.35px #177a3c;">0</div>
<div class="t" style="left:869.40px;top:630.00px;font-size:10.4px;line-height:10.4px;font-weight:400;color:#9a4a0c;letter-spacing:0.000px;-webkit-text-stroke:0.35px #9a4a0c;">0</div>
<div class="t" style="left:920.58px;top:630.00px;font-size:10.4px;line-height:10.4px;font-weight:400;color:#9a4a0c;letter-spacing:0.000px;-webkit-text-stroke:0.35px #9a4a0c;">1</div>
<div class="t" style="left:971.88px;top:630.00px;font-size:10.4px;line-height:10.4px;font-weight:400;color:#9a4a0c;letter-spacing:0.000px;-webkit-text-stroke:0.35px #9a4a0c;">1</div>
<div class="t" style="left:1022.77px;top:630.00px;font-size:10.4px;line-height:10.4px;font-weight:400;color:#177a3c;letter-spacing:0.000px;-webkit-text-stroke:0.35px #177a3c;">1</div>
<div class="t" style="left:1074.20px;top:630.00px;font-size:10.4px;line-height:10.4px;font-weight:400;color:#177a3c;letter-spacing:0.000px;-webkit-text-stroke:0.35px #177a3c;">0</div>
<div class="t" style="left:869.40px;top:682.20px;font-size:10.4px;line-height:10.4px;font-weight:400;color:#9a4a0c;letter-spacing:0.000px;-webkit-text-stroke:0.35px #9a4a0c;">0</div>
<div class="t" style="left:920.70px;top:682.20px;font-size:10.4px;line-height:10.4px;font-weight:400;color:#9a4a0c;letter-spacing:0.000px;-webkit-text-stroke:0.35px #9a4a0c;">0</div>
<div class="t" style="left:972.00px;top:682.20px;font-size:10.4px;line-height:10.4px;font-weight:400;color:#177a3c;letter-spacing:0.000px;-webkit-text-stroke:0.35px #177a3c;">0</div>
<div class="t" style="left:1022.77px;top:682.20px;font-size:10.4px;line-height:10.4px;font-weight:400;color:#177a3c;letter-spacing:0.000px;-webkit-text-stroke:0.35px #177a3c;">1</div>
<div class="t" style="left:1074.20px;top:682.20px;font-size:10.4px;line-height:10.4px;font-weight:400;color:#177a3c;letter-spacing:0.000px;-webkit-text-stroke:0.35px #177a3c;">0</div>
<div class="t" style="left:869.40px;top:733.90px;font-size:10.4px;line-height:10.4px;font-weight:400;color:#177a3c;letter-spacing:0.000px;-webkit-text-stroke:0.35px #177a3c;">0</div>
<div class="t" style="left:920.70px;top:733.90px;font-size:10.4px;line-height:10.4px;font-weight:400;color:#177a3c;letter-spacing:0.000px;-webkit-text-stroke:0.35px #177a3c;">0</div>
<div class="t" style="left:972.00px;top:733.90px;font-size:10.4px;line-height:10.4px;font-weight:400;color:#177a3c;letter-spacing:0.000px;-webkit-text-stroke:0.35px #177a3c;">0</div>
<div class="t" style="left:1022.90px;top:733.90px;font-size:10.4px;line-height:10.4px;font-weight:400;color:#177a3c;letter-spacing:0.000px;-webkit-text-stroke:0.35px #177a3c;">0</div>
<div class="t" style="left:1074.20px;top:733.90px;font-size:10.4px;line-height:10.4px;font-weight:400;color:#177a3c;letter-spacing:0.000px;-webkit-text-stroke:0.35px #177a3c;">0</div>
<div class="t" style="left:81.70px;top:887.65px;font-size:9.98px;line-height:9.98px;font-weight:400;color:#6b7280;letter-spacing:0.355px;">COMPLIANCE RATE</div>
<div class="t" style="left:80.66px;top:909.15px;font-size:24.63px;line-height:24.63px;font-weight:700;color:#0f172a;letter-spacing:-0.200px;">100%</div>
<div class="t" style="left:500.60px;top:907.10px;font-size:10.4px;line-height:10.4px;font-weight:400;color:#166534;letter-spacing:0.592px;font-family:'Liberation Mono',monospace;-webkit-text-stroke:0.45px #166534;">GOOD</div>
<div class="t" style="left:81.40px;top:980.75px;font-size:9.98px;line-height:9.98px;font-weight:400;color:#6b7280;letter-spacing:0.257px;">PENDING</div>
<div class="t" style="left:81.55px;top:1000.39px;font-size:20.8px;line-height:20.8px;font-weight:700;color:#0f172a;letter-spacing:0.000px;">0</div>
<div class="t" style="left:329.40px;top:980.75px;font-size:9.98px;line-height:9.98px;font-weight:400;color:#6b7280;letter-spacing:0.266px;">APPROACHING</div>
<div class="t" style="left:328.75px;top:1000.39px;font-size:20.8px;line-height:20.8px;font-weight:700;color:#0f172a;letter-spacing:0.000px;">0</div>
<div class="t" style="left:81.75px;top:1065.75px;font-size:9.98px;line-height:9.98px;font-weight:400;color:#6b7280;letter-spacing:0.051px;">OVERDUE</div>
<div class="t" style="left:328.60px;top:1065.75px;font-size:9.98px;line-height:9.98px;font-weight:400;color:#6b7280;letter-spacing:0.339px;">REPORTED ON TIME</div>
<div class="t" style="left:641.88px;top:923.57px;font-size:23.19px;line-height:23.19px;font-weight:700;color:#0f172a;letter-spacing:0.000px;">2</div>
<div class="t" style="left:807.05px;top:923.57px;font-size:23.19px;line-height:23.19px;font-weight:700;color:#0f172a;letter-spacing:0.000px;">1</div>
<div class="t" style="left:973.68px;top:923.57px;font-size:23.19px;line-height:23.19px;font-weight:700;color:#0f172a;letter-spacing:0.000px;">0</div>
<div class="t" style="left:641.88px;top:1049.17px;font-size:23.19px;line-height:23.19px;font-weight:700;color:#0f172a;letter-spacing:0.000px;">0</div>
<div class="t" style="left:807.78px;top:1049.17px;font-size:23.19px;line-height:23.19px;font-weight:700;color:#0f172a;letter-spacing:0.000px;">0</div>
<div class="t" style="left:68.65px;top:1195.44px;font-size:12.48px;line-height:12.48px;font-weight:400;color:#1f2937;letter-spacing:-0.008px;">Organizational</div>
<div class="t" style="left:361.40px;top:1195.44px;font-size:12.48px;line-height:12.48px;font-weight:700;color:#111827;letter-spacing:0.000px;">1</div>
<div class="t" style="left:68.20px;top:1227.64px;font-size:12.48px;line-height:12.48px;font-weight:400;color:#1f2937;letter-spacing:0.029px;">Environmental</div>
<div class="t" style="left:361.40px;top:1227.64px;font-size:12.48px;line-height:12.48px;font-weight:700;color:#111827;letter-spacing:0.000px;">1</div>
<div class="t" style="left:484.80px;top:1191.25px;font-size:11.75px;line-height:11.75px;font-weight:400;color:#666666;letter-spacing:0.000px;">1</div>
<div class="t" style="left:468.42px;top:1231.85px;font-size:11.75px;line-height:11.75px;font-weight:400;color:#666666;letter-spacing:0.000px;">0.75</div>
<div class="t" style="left:474.95px;top:1272.45px;font-size:11.75px;line-height:11.75px;font-weight:400;color:#666666;letter-spacing:0.000px;">0.5</div>
<div class="t" style="left:468.42px;top:1313.05px;font-size:11.75px;line-height:11.75px;font-weight:400;color:#666666;letter-spacing:0.000px;">0.25</div>
<div class="t" style="left:914.15px;top:1295.28px;font-size:7.7px;line-height:7.7px;font-weight:400;color:#6b7280;letter-spacing:0.202px;">SLA COMPLIANCE</div>
<div style="position:absolute;left:776px;top:1106px;width:347px;height:238px;overflow:hidden"><div class="t" style="left:144.50px;top:221.70px;font-size:22.33px;line-height:22.33px;font-weight:700;color:#0f172a;letter-spacing:-0.200px;">100%</div></div>
<div class="t" style="left:134.00px;top:1472.15px;font-size:9.98px;line-height:9.98px;font-weight:400;color:#666666;letter-spacing:-0.020px;">Acceptable</div>
<div class="t" style="left:144.80px;top:1542.15px;font-size:9.86px;line-height:9.86px;font-weight:400;color:#666666;letter-spacing:-0.200px;">Tolerable</div>
<div class="t" style="left:799.01px;top:1445.77px;font-size:9.61px;line-height:9.61px;font-weight:400;color:#5f6878;letter-spacing:-0.200px;-webkit-text-stroke:0.1px #5f6878;">No SPIs configured.</div>
</body></html>
